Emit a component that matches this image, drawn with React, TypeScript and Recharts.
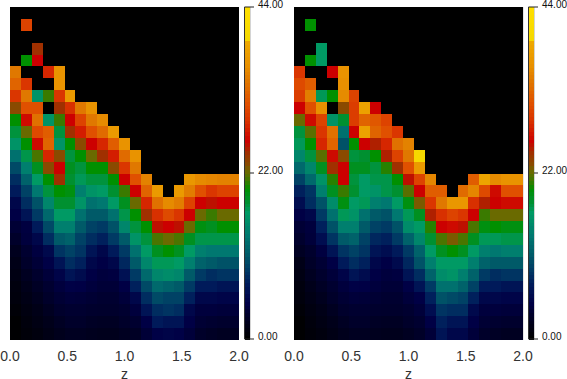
import React from 'react';
import { ScatterChart, Scatter, XAxis, YAxis, ReferenceLine } from 'recharts';

const zTicks = [0, 0.5, 1, 1.5, 2];
const rowTicks = [10, 15, 18, 20, 21, 22, 25];
const barTicks = [0, 22, 44];
const COLS = 21;
const ROWS = 28;

// top row first, short rows are black to the right
const leftRows = [
  [],
  [0, 29],
  [],
  [0, 0, 23.5],
  [0, 18, 25],
  [33, 0, 0, 27, 36],
  [31.5, 28, 0, 0, 36],
  [28, 33, 14, 19.5, 28, 37],
  [22, 30, 30, 0, 23.5, 27.5, 33, 36],
  [18, 25.5, 32.5, 14, 19.5, 25, 29, 33, 35],
  [16, 21, 29.5, 31, 16, 23.5, 26.5, 30, 32, 37],
  [14, 18, 25.5, 31.5, 14, 18, 22, 25, 27, 31, 36],
  [11.5, 15.5, 20, 27, 22, 16, 18, 21, 23.5, 26.5, 32, 36],
  [9, 12.5, 17, 22, 25, 17, 16, 18, 18, 22, 28, 33],
  [7, 10.5, 14.5, 18, 23.5, 16.5, 15, 16, 16, 18, 25, 30, 34, 0, 0, 0, 36.5, 35, 34.5, 34, 34],
  [5.5, 8.5, 12, 16, 18, 17.5, 12.5, 14, 14.5, 16.5, 19.5, 25, 31.5, 37, 0, 37, 33.5, 30, 28, 29, 29],
  [4, 7, 9.5, 13, 16.5, 16.5, 14, 11.5, 12, 14.5, 17, 21, 27, 32.5, 35, 33.5, 29, 25, 24.5, 25, 25],
  [3.5, 5, 8, 11, 14.5, 14.5, 11.5, 10, 10, 11.5, 15.5, 18, 23.5, 27.5, 29.5, 28, 25, 21, 19.5, 21, 21],
  [2.5, 3.2, 5.5, 9, 12.5, 12.5, 10, 8.5, 8, 9.5, 13, 16, 18, 24.5, 25, 24.5, 21, 17.5, 17, 18, 18],
  [1.8, 3, 4, 7, 10, 10.5, 8.5, 7, 6, 8, 10, 14, 16, 20, 21, 20, 17, 15.5, 15.5, 15.5, 15.5],
  [1.3, 2.2, 3.2, 4.2, 7.5, 8.5, 7.5, 5, 4, 5.5, 8, 11.5, 14.5, 17, 18, 17, 14.5, 12.5, 12, 12, 12],
  [1, 1.8, 2.6, 3.6, 5, 7, 6, 4, 3.5, 4, 6.5, 10, 13, 15, 15, 14.5, 12.5, 10.5, 10, 9.5, 9.5],
  [0.8, 1.4, 2, 2.8, 3.8, 5, 4.4, 3.5, 3, 3.2, 4.8, 8, 11, 13, 13.5, 13, 10, 8, 7, 7.5, 7.5],
  [0.6, 1.1, 1.6, 2.2, 3, 3.6, 3.5, 3, 2.6, 2.6, 3.5, 6, 9, 11, 10.5, 10, 8, 5.5, 5.5, 5, 5],
  [0.5, 0.9, 1.3, 1.8, 2.4, 2.8, 2.7, 2.4, 2.2, 2.2, 2.8, 4, 7, 9, 8.5, 8.5, 6, 4, 4, 3.8, 3.8],
  [0.3, 0.7, 1, 1.4, 1.9, 2.2, 2.2, 2, 1.9, 1.9, 2.2, 3, 5, 7, 7.5, 7, 4, 3, 3, 2.8, 2.8],
  [0.1, 0.5, 0.8, 1.1, 1.5, 1.8, 1.8, 1.6, 1.5, 1.5, 1.8, 2.2, 3.5, 5.5, 5, 5, 3.5, 2.4, 2.2, 2, 2],
  [0.1, 0.4, 0.6, 0.9, 1.2, 1.4, 1.4, 1.3, 1.2, 1.2, 1.4, 1.6, 2.6, 3.6, 3.8, 3.6, 2.8, 1.8, 1.6, 1.4, 1.4],
];

const rightRows = [
  [],
  [0, 18],
  [],
  [0, 0, 14.5],
  [0, 18, 14.5],
  [28, 0, 0, 25, 36],
  [29.5, 31, 0, 0, 35.5],
  [28.5, 33.5, 15, 18, 35, 29],
  [25, 30, 35.5, 0, 22, 28.5, 38, 25],
  [21, 25.5, 29, 14, 16.5, 28.5, 31.5, 30.5, 29],
  [16, 20.5, 28, 32.5, 11.5, 25, 38, 31.5, 30, 28],
  [15, 18, 27, 31.5, 9.5, 18, 25, 24, 27, 32.5, 34],
  [13, 16, 20.5, 25.5, 22, 16, 16.5, 18, 24, 29, 33, 40],
  [11, 13, 17, 23.5, 25, 17, 17, 16, 19, 23.5, 30, 37],
  [8.5, 11, 14, 19, 25, 16, 14.5, 15.5, 15.5, 18, 24.5, 29, 34.5, 0, 0, 0, 31, 38.5, 35, 36, 36],
  [6, 7.5, 12.5, 17, 19.5, 16.5, 14.5, 14, 15.5, 16.5, 20.5, 25, 31, 31, 0, 32, 34.5, 29.5, 25.5, 30, 30],
  [4.5, 7, 9.5, 13.5, 17.5, 14.5, 15, 12.5, 12, 14.5, 17.5, 21.5, 28, 33, 36.5, 36.5, 27.5, 24, 25, 25.5, 25.5],
  [3.5, 4, 8, 11.5, 15, 14, 11.5, 10, 9.5, 12, 15, 17, 24, 27.5, 29, 28, 25, 19.5, 21, 21, 21],
  [2.5, 3, 6, 9.5, 12.5, 12.5, 10, 8.5, 8, 9.5, 13.5, 14.5, 19, 25, 25.5, 24.5, 20, 17.5, 18, 17.5, 17.5],
  [2, 2.8, 4.5, 7.5, 10, 10.5, 8.5, 6.5, 6, 8, 10.5, 13, 16.5, 20, 21.5, 20, 17, 15, 15, 15.5, 15.5],
  [1.5, 2, 3.2, 5, 7.5, 8.5, 7.5, 5, 4.5, 5.5, 8, 10.5, 14.5, 17, 18, 17, 14.5, 12.5, 12, 12.5, 12.5],
  [1, 1.7, 2.4, 3.5, 5.5, 7, 6, 4, 3.5, 4.3, 6.5, 9.5, 12.5, 14.5, 14.5, 14.5, 12.5, 10.5, 10, 10, 10],
  [0.8, 1.4, 2, 2.8, 3.8, 5, 4.4, 3.5, 3, 3.2, 5, 7, 10.5, 13.5, 14, 12.5, 10.5, 8, 7, 7.5, 7.5],
  [0.6, 1.1, 1.6, 2.2, 3, 3.6, 3.5, 3, 2.6, 2.6, 3.6, 5, 8, 11.5, 11.5, 10.5, 8.5, 5.5, 5.5, 5, 5],
  [0.5, 0.9, 1.3, 1.8, 2.4, 2.8, 2.7, 2.4, 2.2, 2.2, 2.9, 3.5, 6, 9.5, 9, 8.5, 6, 4, 4, 3.8, 3.8],
  [0.3, 0.7, 1, 1.4, 1.9, 2.2, 2.2, 2, 1.9, 1.9, 2.2, 2.8, 4.5, 7.5, 7, 7, 4.2, 3, 3, 2.8, 2.8],
  [0.1, 0.5, 0.8, 1.1, 1.5, 1.8, 1.8, 1.6, 1.5, 1.5, 1.8, 2.2, 3.5, 6, 5, 5, 3.5, 2.4, 2.2, 2, 2],
  [0.1, 0.4, 0.6, 0.9, 1.2, 1.4, 1.4, 1.3, 1.2, 1.2, 1.4, 1.7, 2.7, 5, 4, 4, 2.8, 1.8, 1.6, 1.4, 1.4],
];

const barLevels = [
  0, 0.5, 1, 1.5, 2, 2.5, 3, 3.5, 4, 4.5, 5, 5.5, 6, 6.5, 7, 7.5, 8, 8.5, 9, 9.5, 10, 10.5,
  11, 11.5, 12, 12.5, 13, 13.5, 14, 14.5, 15, 15.5, 16, 16.5, 17, 17.5, 18, 18.5, 19, 19.5, 20, 20.5, 21, 21.5,
  22, 22.5, 23, 23.5, 24, 24.5, 25, 25.5, 26, 26.5, 27, 27.5, 28, 28.5, 29, 29.5, 30, 30.5, 31, 31.5, 32, 32.5,
  33, 33.5, 34, 34.5, 35, 35.5, 36, 36.5, 37, 37.5, 38, 38.5, 39, 39.5, 40, 40.5, 41, 41.5, 42, 42.5, 43, 43.5,
];

// palette, with where each colour sits for cells (as read) and on the colour bar
const palette = [
  '#000000', '#00002a', '#000045', '#001a5a', '#003a64', '#005a68', '#007870', '#009a64', '#009030', '#009000',
  '#3a7a00', '#6a6a00', '#8a4a00', '#a03000', '#cc0000', '#d83000', '#e05000', '#e07800', '#e89000', '#eea800',
  '#f5d800', '#ffe000',
];
const cellStops = [0, 1.8, 3.5, 5.5, 8, 10, 12, 14.5, 16.5, 18, 19.5, 21, 22, 23.5, 25, 27.5, 30, 33, 35.5, 39, 39.3, 44];
const barStops = [0, 3, 4.5, 7, 9, 11, 13.5, 16.5, 18, 19.7, 20.7, 22, 23, 24.5, 26, 28.5, 31, 34, 36, 39, 39.3, 44];

const hexToRgb = (hex: string) => [1, 3, 5].map((i) => parseInt(hex.slice(i, i + 2), 16));

const colorAt = (v: number, stops: number[]) => {
  let i = 0;
  while (i < stops.length - 2 && v > stops[i + 1]) i++;
  const t = Math.min(1, (v - stops[i]) / (stops[i + 1] - stops[i]));
  const a = hexToRgb(palette[i]);
  const b = hexToRgb(palette[i + 1]);
  return `rgb(${a.map((c, k) => Math.round(c + (b[k] - c) * t)).join(',')})`;
};

const toCells = (rows: number[][]) =>
  rows.flatMap((row, r) =>
    Array.from({ length: COLS }, (_, c) => ({
      z: ((c + 0.5) * 2) / COLS,
      row: ROWS - r - 0.5,
      value: row[c] ?? 0,
    }))
  );

const FONT = '"Liberation Sans", Arial, sans-serif';
const PLOT_W = 229;
const PLOT_H = 333;
const BAR_W = 5.5;
const BAR_H = 332;

const HeatCell = (props: any) => {
  const w = PLOT_W / COLS;
  const h = PLOT_H / ROWS;
  return (
    <rect
      x={props.cx - w / 2}
      y={props.cy - h / 2}
      width={w}
      height={h}
      fill={colorAt(props.payload.value, cellStops)}
      shapeRendering="crispEdges"
    />
  );
};

const BarStep = (props: any) => {
  const h = BAR_H / barLevels.length;
  return (
    <rect
      x={props.cx - BAR_W / 2}
      y={props.cy - h}
      width={BAR_W}
      height={h + 0.5}
      fill={colorAt(props.payload.level, barStops)}
      shapeRendering="crispEdges"
    />
  );
};

// props.x sits 8px right of the bar edge (recharts tick size + margin)
const BarTick = (props: any) => {
  const edge = props.x - 8;
  const capped = props.payload.value !== 22;
  return (
    <g>
      <line x1={capped ? edge - BAR_W : edge} x2={edge + 4} y1={props.y} y2={props.y} stroke="#222" strokeWidth={1} />
      <text x={edge + 8} y={props.y} dy={0.5} fontSize={10} fontFamily={FONT} fill="#111">
        {props.payload.value.toFixed(2)}
      </text>
    </g>
  );
};

const Panel = ({ rows, left, framed }: { rows: number[][]; left: number; framed: boolean }) => (
  <div style={{ position: 'absolute', left, top: 0 }}>
    <ScatterChart width={262} height={379} margin={{ top: 7, right: 23, bottom: 0, left: 10 }}>
      <XAxis
        type="number"
        dataKey="z"
        domain={[0, 2]}
        ticks={zTicks}
        interval={0}
        height={39}
        axisLine={false}
        tickLine={false}
        tickSize={0}
        tickMargin={11}
        tickFormatter={(v: number) => v.toFixed(1)}
        tick={{ fontSize: 14, fontFamily: FONT, fill: '#333' }}
        label={{ value: 'z', position: 'insideBottom', offset: 0, fontSize: 14, fontFamily: FONT, fill: '#333' }}
      />
      <YAxis
        type="number"
        dataKey="row"
        domain={[0, ROWS]}
        ticks={rowTicks}
        interval={0}
        width={0}
        mirror
        axisLine={framed ? { stroke: '#999' } : false}
        tickSize={2}
        tickLine={{ stroke: '#444' }}
        tickFormatter={() => ''}
      />
      <Scatter data={toCells(rows)} shape={HeatCell} isAnimationActive={false} />
      {framed && <ReferenceLine x={2} stroke="#ccc" />}
    </ScatterChart>
    <div style={{ position: 'absolute', left: 239, top: 0 }}>
      <ScatterChart width={50} height={345} margin={{ top: 7, right: 0, bottom: 6, left: 5.5 }}>
        <XAxis type="number" dataKey="x" domain={[0, 1]} hide />
        <YAxis
          type="number"
          dataKey="level"
          orientation="right"
          domain={[0, 44]}
          ticks={barTicks}
          interval={0}
          width={39}
          axisLine={{ stroke: '#aaa' }}
          tickLine={false}
          tick={BarTick}
        />
        <Scatter data={barLevels.map((level) => ({ x: 0.5, level }))} shape={BarStep} isAnimationActive={false} />
        <ReferenceLine x={0} stroke="#333" />
      </ScatterChart>
    </div>
  </div>
);

const App = () => (
  <div style={{ position: 'absolute', left: 0, top: 0, width: 567, height: 379, background: '#fff', overflow: 'hidden' }}>
    <Panel rows={leftRows} left={0} framed={false} />
    <Panel rows={rightRows} left={283.7} framed />
  </div>
);

export default App;
